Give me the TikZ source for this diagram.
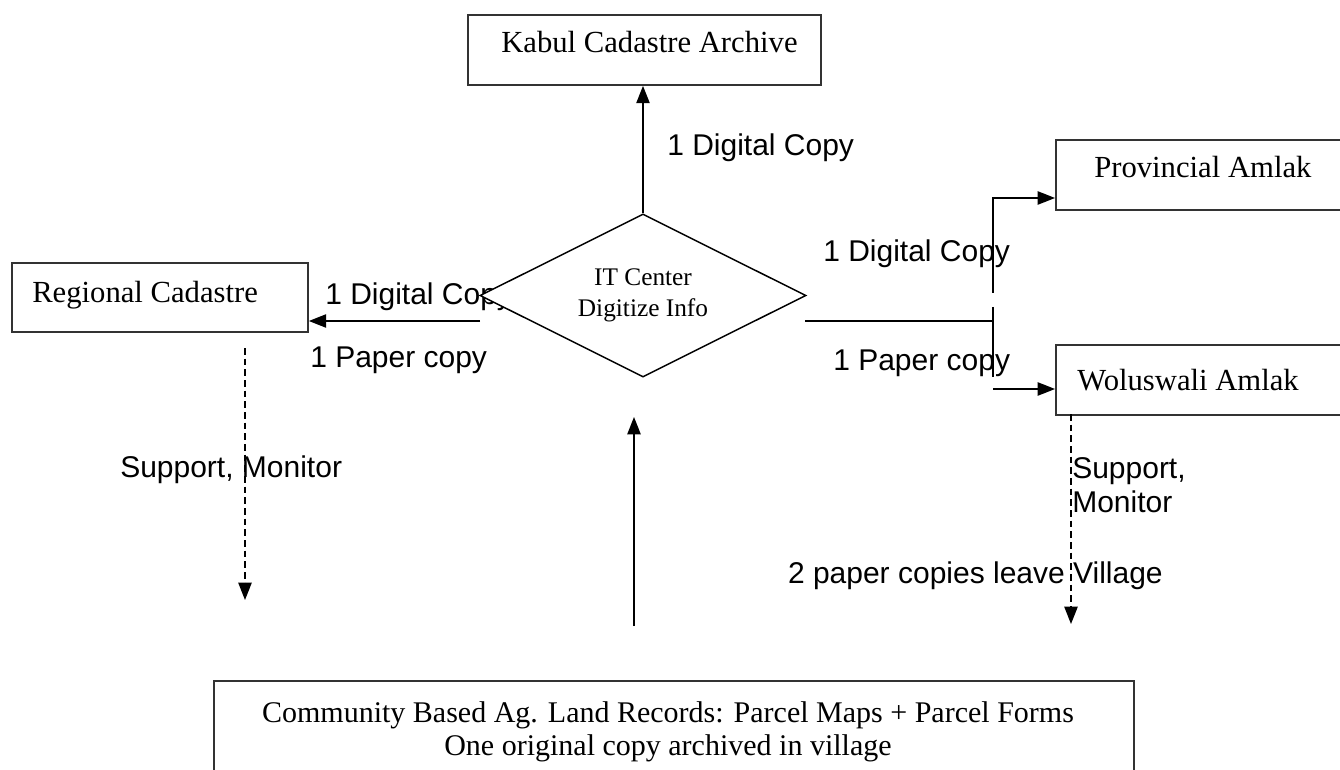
\documentclass[tikz,border=0pt]{standalone}
\usepackage{fontspec}
\setmainfont{Liberation Serif}
\newfontfamily\arialfont{Liberation Sans}
\usetikzlibrary{shapes.geometric,arrows.meta}
\begin{document}
\begin{tikzpicture}[x=0.75pt,y=-0.75pt,
  box/.style={draw=black!80, line width=1.4pt, anchor=north west, inner sep=0},
  serif/.style={font=\fontsize{23}{27}\selectfont, inner sep=0},
  lab/.style={font=\arialfont\fontsize{22.5}{25.5}\selectfont, inner sep=0},
  conn/.style={line width=1.1pt},
  arr/.style={conn, -{Triangle[length=13pt,width=10pt]}},
  darr/.style={arr, dash pattern=on 5pt off 3pt}]
\useasboundingbox (0,0) rectangle (1340,770);

% boxes
\node[box, minimum width={353*0.75pt}, minimum height={70*0.75pt}] (kabul) at (467,14) {};
\node[serif, anchor=base west] (kabult) at (501,53) {Kabul Cadastre Archive};
\node[box, minimum width={296*0.75pt}, minimum height={69*0.75pt}] (reg) at (11,262) {};
\node[serif, anchor=base west] (regt) at (32,302) {Regional Cadastre};
\node[box, minimum width={285*0.75pt}, minimum height={70*0.75pt}] (prov) at (1055,139) {};
\node[serif, anchor=base west] (provt) at (1094,178) {Provincial Amlak};
\node[box, minimum width={285*0.75pt}, minimum height={70*0.75pt}] (wol) at (1055,344) {};
\node[serif, anchor=base west] (wolt) at (1077,390) {Woluswali Amlak};
\node[box, minimum width={920*0.75pt}, minimum height={120*0.75pt}] (comm) at (213,680) {};
\node[serif, anchor=base, align=center, font=\fontsize{22.5}{24.75}\selectfont] (commt) at (668,755)
  {Community Based Ag. Land Records: Parcel Maps + Parcel Forms\\One original copy archived in village};

% label hidden partly by the diamond
\node[lab, anchor=base west] (ldig) at (325,305) {1 Digital Copy};

% diamond
\node[diamond, draw, line width=1.1pt, fill=white, aspect=2, inner sep=0,
  minimum width={326*0.75pt}, minimum height={163*0.75pt}, align=center,
  font=\fontsize{19}{23.25}\selectfont] (it) at (643,295.5) {IT Center\\Digitize Info};

% other labels
\node[lab, anchor=base west] (tdig) at (667,156) {1 Digital Copy};
\node[lab, anchor=base west] (lpap) at (310,367) {1 Paper copy};
\node[lab, anchor=base west] (rdig) at (823,262) {1 Digital Copy};
\node[lab, anchor=base west] (rpap) at (833,370) {1 Paper copy};
\node[lab, anchor=base west] (lsup) at (120,477) {Support, Monitor};
\node[lab, anchor=base west, align=left] (rsup) at (1072,512) {Support,\\Monitor};
\node[lab, anchor=base east] (leave) at (1163,583) {2 paper copies leave Village};

% connector end points
\coordinate (lstart) at (480,321);
\coordinate (rstart) at (805,321);
\coordinate (rj) at (993,321);
\coordinate (c1) at (993,293);
\coordinate (c2) at (993,307);
\coordinate (c3) at (993,377);
\coordinate (c4) at (993,389);
\coordinate (pin) at (1055,198);
\coordinate (win) at (1055,389);
\coordinate (b0) at (634,626);
\coordinate (b1) at (634,417);
\coordinate (rd0) at (245,348);
\coordinate (rd1) at (245,600);
\coordinate (wd0) at (1071,414);
\coordinate (wd1) at (1071,624);

% connectors
\draw[arr] (it.north) -- (kabul.south -| it.north);
\draw[arr] (lstart) -- (lstart -| reg.east);
\draw[conn] (rstart) -- (rj);
\draw[arr] (c1) |- (pin);
\draw[conn] (c2) -- (c3);
\draw[arr] (c4) -- (win);
\draw[arr] (b0) -- (b1);
\draw[darr] (rd0) -- (rd1);
\draw[darr] (wd0) -- (wd1);
\end{tikzpicture}
\end{document}
